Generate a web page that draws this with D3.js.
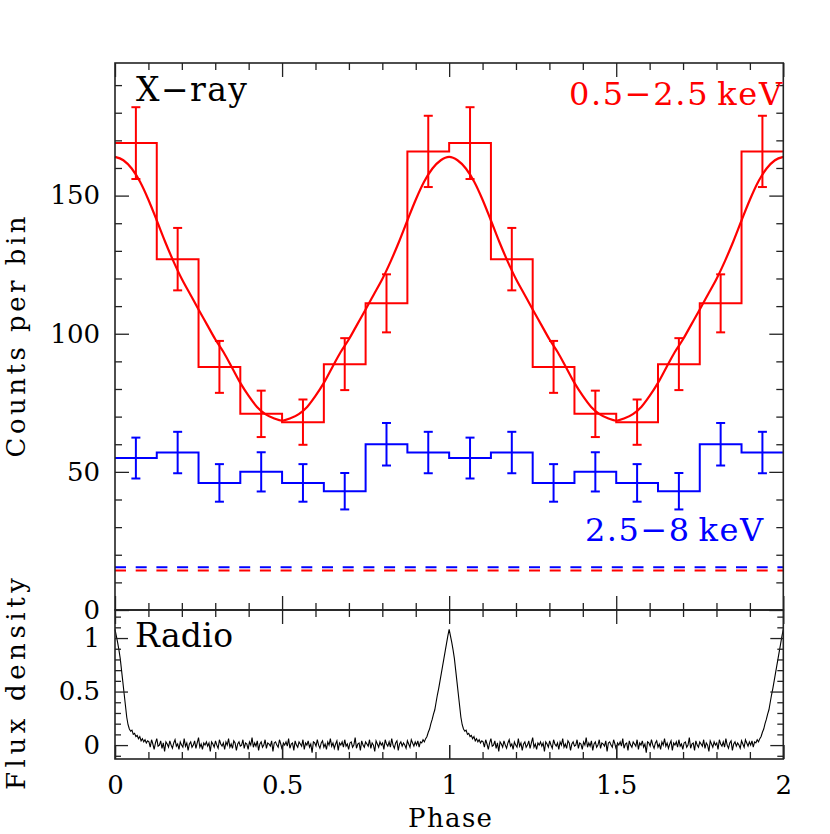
<!DOCTYPE html>
<html>
<head>
<meta charset="utf-8">
<script src="https://cdn.jsdelivr.net/npm/d3@7"></script>
<style>
  body { margin: 0; background: #fff; }
</style>
</head>
<body>
<svg id="chart" width="830" height="834"></svg>
<script>
// ---- data (one rotation, 8 phase bins, shown twice) ----
var binsPerCycle = 8;
var redCounts  = [169, 127, 88, 71, 68, 89, 111, 166];
var redErrors  = [13.0, 11.3, 9.4, 8.4, 8.2, 9.4, 10.5, 12.9];
var blueCounts = [55, 57, 46, 50, 46, 43, 60, 57];
var blueErrors = [7.4, 7.5, 6.8, 7.1, 6.8, 6.6, 7.7, 7.5];
var redBackground = 14.3;
var blueBackground = 15.5;

// model curve for the soft band, sampled every 0.025 in phase (0..1)
var redModel = [164.0, 162.8, 159.8, 155.0, 148.5, 141.0, 133.3, 126.2, 119.8, 114.3,
                108.8, 103.4, 98.0, 93.3, 87.8, 82.2, 77.5, 73.5, 70.9, 69.4,
                68.5, 69.4, 70.9, 73.5, 77.5, 82.2, 87.8, 93.3, 98.0, 103.4,
                108.8, 114.3, 119.8, 126.2, 133.3, 141.0, 148.5, 155.0, 159.8, 162.8,
                164.0];

// radio profile, 256 phase bins per rotation
var radioFlux = [
  1.08, 1.02, 0.96, 0.89, 0.81, 0.70, 0.59, 0.48, 0.37, 0.26, 0.19, 0.15, 0.13, 0.14, 0.10, 0.11,
  0.08, 0.09, 0.06, 0.08, 0.04, 0.06, 0.03, 0.05, 0.02, 0.04,
  0.03, -0.02, 0.05, 0.01, -0.04, 0.02, 0.06, -0.01, 0.00, 0.04, -0.03, 0.02, -0.06, 0.03, 0.01,
  -0.02, 0.04, 0.00, -0.03, 0.02, 0.05, -0.01, 0.01, -0.04, 0.03, 0.00, -0.02, 0.06, -0.01, 0.02,
  -0.05, 0.01, 0.03, -0.02, 0.00, 0.04, -0.03, 0.02, 0.07, -0.02, 0.01, -0.04, 0.02, 0.00, 0.03,
  -0.01, 0.02, -0.06, 0.03, 0.01, -0.02, 0.04, 0.00, -0.03, 0.05, 0.01, -0.01, 0.02, -0.04, 0.03,
  0.00, 0.06, -0.02, 0.01, -0.03, 0.04, 0.02, -0.05, 0.01, 0.03, -0.01, 0.00, 0.05, -0.03, 0.02,
  0.01, -0.04, 0.03, 0.00, 0.07, -0.02, 0.02, -0.01, 0.04, -0.05, 0.01, 0.03, -0.02, 0.00, 0.05,
  -0.03, 0.02, 0.01, -0.01, 0.04, -0.06, 0.02, 0.03, 0.00, -0.02, 0.05, 0.01, -0.04, 0.02, 0.00,
  0.03, -0.01, 0.06, -0.03, 0.01, 0.02, -0.05, 0.04, 0.00, -0.02, 0.03, 0.01, -0.01, 0.05, -0.04,
  0.02, 0.00, 0.04, -0.02, 0.01, -0.07, 0.03, 0.02, -0.01, 0.05, 0.00, -0.03, 0.02, 0.04, -0.02,
  0.01, -0.04, 0.03, 0.00, 0.06, -0.01, 0.02, -0.03, 0.01, 0.04, -0.05, 0.02, 0.00, 0.03, -0.02,
  0.05, -0.01, 0.01, -0.04, 0.02, 0.03, -0.02, 0.00, 0.07, -0.03, 0.01, 0.02, -0.05, 0.04, 0.00,
  -0.02, 0.03, 0.01, -0.01, 0.05, -0.03, 0.02, 0.00, -0.06, 0.04, 0.01, -0.02, 0.03, 0.00, 0.02,
  -0.04, 0.05, 0.01, -0.01, 0.03, -0.02, 0.06, 0.00, -0.03, 0.02, 0.04, -0.05, 0.01, 0.03, -0.01,
  0.02, 0.00, -0.03, 0.04, 0.01, -0.02, 0.05, 0.02, -0.01, 0.03, 0.00, 0.04, -0.02, 0.03, 0.02,
  0.05, 0.03, 0.06, 0.08, 0.12, 0.15, 0.20, 0.24, 0.29, 0.33, 0.40, 0.47, 0.53, 0.60, 0.67, 0.74,
  0.81, 0.88, 0.95, 1.02
];

var cycles = 2;
var xTicksMajor = [0, 0.5, 1, 1.5, 2];
var xTickLabels = ["0", "0.5", "1", "1.5", "2"];
var countTicksMajor = [0, 50, 100, 150];
var fluxTicksMajor = [0, 0.5, 1];
var fluxTickLabels = ["0", "0.5", "1"];

// ---- layout ----
var FONT = "'DejaVu Serif', serif";
var svg = d3.select("#chart");
var left = 115, right = 783.3;
var topY0 = 63, topY1 = 610;     // upper panel
var botY0 = 610, botY1 = 759;    // lower panel
var RED = "#ff0000", BLUE = "#0000ff";

var x = d3.scaleLinear().domain([0, 2]).range([left, right]);
var yC = d3.scaleLinear().domain([0, 198]).range([topY1, topY0]);
var yF = d3.scaleLinear().domain([-0.13, 1.262]).range([botY1, botY0]);

// histogram helpers
function stepPoints(counts) {
    var pts = [];
    for (var c = 0; c < cycles; c++) {
        counts.forEach(function(v, i) {
            pts.push([c + i / binsPerCycle, v]);
        });
    }
    pts.push([cycles, counts[counts.length - 1]]);
    return pts;
}
function errPoints(counts, errs) {
    var pts = [];
    for (var c = 0; c < cycles; c++) {
        counts.forEach(function(v, i) {
            pts.push({ x: c + (i + 0.5) / binsPerCycle, v: v, e: errs[i] });
        });
    }
    return pts;
}

var stepLine = d3.line()
    .x(function(d) { return x(d[0]); })
    .y(function(d) { return yC(d[1]); })
    .curve(d3.curveStepAfter);

// ---- upper panel ----
var up = svg.append("g");

[[redBackground, RED], [blueBackground, BLUE]].forEach(function(b) {
    up.append("line")
        .attr("x1", x(0)).attr("x2", x(2))
        .attr("y1", yC(b[0])).attr("y2", yC(b[0]))
        .attr("stroke", b[1]).attr("stroke-width", 2)
        .attr("stroke-dasharray", "11,9.7");
});

function drawBand(counts, errs, color) {
    up.append("path")
        .datum(stepPoints(counts))
        .attr("d", stepLine)
        .attr("fill", "none")
        .attr("stroke", color)
        .attr("stroke-width", 2);

    var eb = up.append("g").attr("stroke", color).attr("stroke-width", 2);
    var pts = errPoints(counts, errs);
    eb.selectAll("line.v").data(pts).enter().append("line")
        .attr("x1", function(d) { return x(d.x); })
        .attr("x2", function(d) { return x(d.x); })
        .attr("y1", function(d) { return yC(d.v - d.e); })
        .attr("y2", function(d) { return yC(d.v + d.e); });
    [1, -1].forEach(function(s) {
        eb.selectAll(null).data(pts).enter().append("line")
            .attr("x1", function(d) { return x(d.x) - 4.5; })
            .attr("x2", function(d) { return x(d.x) + 4.5; })
            .attr("y1", function(d) { return yC(d.v + s * d.e); })
            .attr("y2", function(d) { return yC(d.v + s * d.e); });
    });
}
drawBand(blueCounts, blueErrors, BLUE);
drawBand(redCounts, redErrors, RED);

var modelPts = [];
for (var c = 0; c < cycles; c++) {
    redModel.forEach(function(v, i) {
        if (c > 0 && i === 0) return;
        modelPts.push([c + i / (redModel.length - 1), v]);
    });
}
up.append("path")
    .datum(modelPts)
    .attr("d", d3.line()
        .x(function(d) { return x(d[0]); })
        .y(function(d) { return yC(d[1]); })
        .curve(d3.curveMonotoneX))
    .attr("fill", "none")
    .attr("stroke", RED)
    .attr("stroke-width", 2.2);

// ---- lower panel ----
var radioPts = [];
for (var c2 = 0; c2 < cycles; c2++) {
    radioFlux.forEach(function(v, i) {
        radioPts.push([c2 + i / radioFlux.length, v]);
    });
}
radioPts.push([cycles, radioFlux[0]]);

svg.append("path")
    .datum(radioPts)
    .attr("d", d3.line()
        .x(function(d) { return x(d[0]); })
        .y(function(d) { return yF(d[1]); }))
    .attr("fill", "none")
    .attr("stroke", "#000")
    .attr("stroke-width", 1.1);

// ---- frames and ticks ----
var AX = "#222";
function tickAxis(axisFn, scale, values, len, pos, isX, labels, pad) {
    var a = axisFn(scale).tickValues(values).tickSizeInner(-len).tickSizeOuter(0)
        .tickPadding(pad || 3)
        .tickFormat(labels ? function(d, i) { return labels[i]; } : "");
    var g = svg.append("g")
        .attr("transform", isX ? "translate(0," + pos + ")" : "translate(" + pos + ",0)")
        .call(a);
    g.attr("font-family", FONT).attr("font-size", 26);
    g.select(".domain").remove();
    g.selectAll(".tick line").attr("stroke", AX).attr("stroke-width", 1.3);
    g.selectAll("text").attr("fill", "#000");
    return g;
}

var xMinor = d3.range(0, 21).map(function(i) { return i / 10; })
    .filter(function(v) { return Math.abs(v * 2 - Math.round(v * 2)) > 1e-6; });
var cMinor = d3.range(0, 200, 10).filter(function(v) { return v % 50 !== 0; });
var fMinor = d3.range(-1, 13).map(function(i) { return i / 10; })
    .filter(function(v) { return Math.abs(v * 2 - Math.round(v * 2)) > 1e-6; });

// x ticks on every horizontal edge
[[d3.axisTop, topY0], [d3.axisBottom, topY1], [d3.axisTop, botY0], [d3.axisBottom, botY1]]
    .forEach(function(e) {
        tickAxis(e[0], x, xMinor, 7, e[1], true);
        tickAxis(e[0], x, xTicksMajor, 14, e[1], true);
    });
tickAxis(d3.axisBottom, x, xTicksMajor, 14, botY1, true, xTickLabels, 17);

// counts axis
tickAxis(d3.axisLeft, yC, cMinor, 7, left, false);
tickAxis(d3.axisLeft, yC, countTicksMajor, 14, left, false,
    countTicksMajor.map(String), 15);
tickAxis(d3.axisRight, yC, cMinor, 7, right, false);
tickAxis(d3.axisRight, yC, countTicksMajor, 14, right, false);

// flux axis
tickAxis(d3.axisLeft, yF, fMinor, 6, left, false);
tickAxis(d3.axisLeft, yF, fluxTicksMajor, 13, left, false, fluxTickLabels, 15);
tickAxis(d3.axisRight, yF, fMinor, 6, right, false);
tickAxis(d3.axisRight, yF, fluxTicksMajor, 13, right, false);

[[topY0, topY1], [botY0, botY1]].forEach(function(p) {
    svg.append("rect")
        .attr("x", left).attr("y", p[0])
        .attr("width", right - left).attr("height", p[1] - p[0])
        .attr("fill", "none").attr("stroke", AX).attr("stroke-width", 1.6);
});

// ---- text ----
function label(txt, xp, yp, size, len, color, anchor, rot) {
    var t = svg.append("text")
        .attr("x", xp).attr("y", yp)
        .attr("fill", color || "#000")
        .attr("text-anchor", anchor || "start")
        .attr("font-family", FONT)
        .attr("font-size", size)
        .attr("textLength", len)
        .attr("lengthAdjust", "spacing")
        .text(txt);
    if (rot) t.attr("transform", "rotate(-90," + xp + "," + yp + ")");
    return t;
}
label("X\u2212ray", 136, 101, 33, 111);
label("0.5\u22122.5\u2009keV", 569, 105, 32, 213, RED);
label("2.5\u22128\u2009keV", 585, 541, 32, 178, BLUE);
label("Radio", 135, 647, 33, 98);
label("Counts per bin", 25, 337, 26, 241, "#000", "middle", true);
label("Flux density", 25, 684, 26, 212, "#000", "middle", true);
label("Phase", 450, 827, 26, 84, "#000", "middle");
</script>
</body>
</html>
